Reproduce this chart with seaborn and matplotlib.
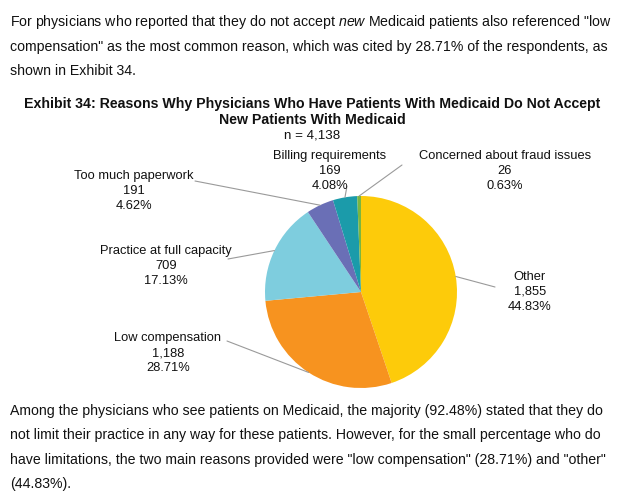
import numpy as np
import matplotlib
matplotlib.use('Agg')
import matplotlib.pyplot as plt
import seaborn as sns

# data
categories = ['Other', 'Low compensation', 'Practice at full capacity',
              'Too much paperwork', 'Billing requirements', 'Concerned about fraud issues']
counts = [1855, 1188, 709, 191, 169, 26]
percents = ['44.83%', '28.71%', '17.13%', '4.62%', '4.08%', '0.63%']
colors = ['#FDCB0A', '#F7931F', '#7ECDDE', '#6A6FB6', '#1B9BAA', '#7BB540']

sns.set_theme(style='white')
plt.rcParams['font.family'] = ['Liberation Sans', 'DejaVu Sans']
plt.rcParams['mathtext.fontset'] = 'custom'
plt.rcParams['mathtext.rm'] = 'Liberation Sans'
plt.rcParams['mathtext.it'] = 'Liberation Sans:italic'

W, H = 624, 500
fig = plt.figure(figsize=(W / 100, H / 100), dpi=100, facecolor='white')


def fx(x):
    return x / W


def fy(y):
    return 1 - y / H


# ── body text ─────────────────────────────────────────────
TXT = 10.2
top_lines = [
    r'For physicians who reported that they do not accept $\mathit{new}$ Medicaid patients also referenced "low',
    'compensation" as the most common reason, which was cited by 28.71% of the respondents, as',
    'shown in Exhibit 34.',
]
for i, s in enumerate(top_lines):
    fig.text(fx(10), fy(22 + 24.5 * i), s, fontsize=TXT, va='center', ha='left', color='#111111')

bottom_lines = [
    'Among the physicians who see patients on Medicaid, the majority (92.48%) stated that they do',
    'not limit their practice in any way for these patients. However, for the small percentage who do',
    'have limitations, the two main reasons provided were "low compensation" (28.71%) and "other"',
    '(44.83%).',
]
for i, s in enumerate(bottom_lines):
    fig.text(fx(10), fy(411 + 24.4 * i), s, fontsize=TXT, va='center', ha='left', color='#111111')

# ── title ─────────────────────────────────────────────────
fig.text(fx(312), fy(104), 'Exhibit 34: Reasons Why Physicians Who Have Patients With Medicaid Do Not Accept',
         fontsize=10.2, fontweight='bold', ha='center', va='center', color='#111111')
fig.text(fx(312), fy(119.5), 'New Patients With Medicaid',
         fontsize=10.2, fontweight='bold', ha='center', va='center', color='#111111')
fig.text(fx(312), fy(135.5), 'n = 4,138', fontsize=9.6, ha='center', va='center', color='#111111')

# ── pie ───────────────────────────────────────────────────
cx, cy, r = 361, 292, 96
ax = fig.add_axes([fx(cx - r), fy(cy + r), 2 * r / W, 2 * r / H])
wedges, _ = ax.pie(counts, colors=colors, startangle=90, counterclock=False,
                   radius=1, wedgeprops=dict(linewidth=0))
ax.set_xlim(-1, 1)
ax.set_ylim(-1, 1)
ax.set_aspect('auto')
ax.axis('off')

# label centres (px) and leader-line ends (px)
label_pos = [(530, 292), (168, 353), (166, 266), (134, 191), (330, 171), (505, 171)]
line_end = [(495, 287), (227, 341), (228, 259), (195, 181), (347, 186), (402, 165)]

for w, cat, n, p, (lx, ly), (ex, ey) in zip(wedges, categories, counts, percents, label_pos, line_end):
    mid = np.deg2rad((w.theta1 + w.theta2) / 2)
    ax.annotate('', xy=(np.cos(mid), np.sin(mid)), xycoords='data',
                xytext=(ex, H - ey), textcoords='figure pixels',
                arrowprops=dict(arrowstyle='-', color='#9a9a9a', lw=0.8,
                                shrinkA=0, shrinkB=0))
    fig.text(fx(lx), fy(ly), f'{cat}\n{n:,}\n{p}', fontsize=9.3, ha='center', va='center',
             linespacing=1.28, color='#111111')

fig.savefig('out.png', dpi=100, facecolor='white')
